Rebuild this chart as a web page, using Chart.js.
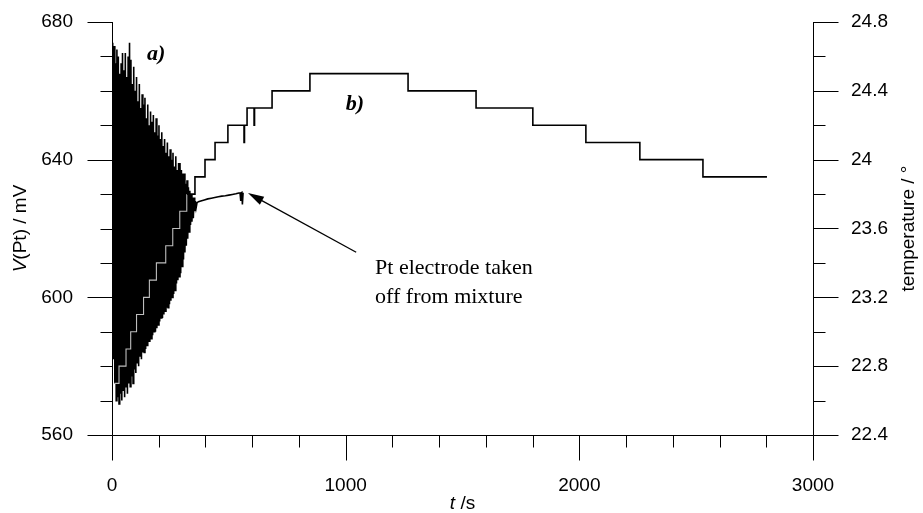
<!DOCTYPE html>
<html>
<head>
<meta charset="utf-8">
<script src="https://cdn.jsdelivr.net/npm/chart.js@4.4.0/dist/chart.umd.min.js"></script>
<style>
  html, body { margin: 0; padding: 0; background: #fff; }
  #wrap { width: 923px; height: 513px; }
</style>
</head>
<body>
<div id="wrap"><canvas id="trendChart" width="923" height="513"></canvas></div>
<script>
// a) potential of the Pt electrode (mV) vs time (s)
const voltTime = [
  3, 6, 9, 12, 15, 18, 21, 24, 27, 30, 33, 36, 39, 42, 45, 48, 51, 54, 57, 60,
  63, 66, 69, 72, 75, 78, 81, 84, 87, 90, 93, 96, 99, 102, 105, 108, 111, 114, 117, 120,
  123, 126, 129, 132, 135, 138, 141, 144, 147, 150, 153, 156, 159, 162, 165, 168, 171, 174, 177, 180,
  183, 186, 189, 192, 195, 198, 201, 204, 207, 210, 213, 216, 219, 222, 225, 228, 231, 234, 237, 240,
  243, 246, 249, 252, 255, 258, 261, 264, 267, 270, 273, 276, 279, 282, 285, 288, 291, 294, 297, 300,
  303, 306, 309, 312, 315, 318, 321, 324, 327, 330, 333, 336, 339, 342, 345, 348, 351, 354, 357, 360,
  364, 370, 380, 395, 410, 425, 440, 455, 470, 485, 500, 515, 530, 543, 548, 550, 552, 556, 558, 561
];
const voltValue = [
  674, 582, 673, 575, 668, 570, 672, 571, 670, 569, 665, 572, 668, 570, 671, 573, 666, 571, 671, 574,
  664, 572, 670, 575, 674, 574, 669, 577, 662, 575, 667, 579, 660, 578, 664, 581, 657, 580, 662, 583,
  655, 582, 659, 584, 656, 584, 658, 585, 652, 586, 656, 587, 650, 587, 654, 588, 651, 589, 653, 590,
  648, 590, 652, 591, 647, 592, 650, 593, 646, 594, 648, 594, 644, 595, 646, 596, 642, 597, 645, 597,
  641, 598, 643, 599, 640, 600, 642, 601, 638, 602, 641, 604, 637, 605, 639, 606, 639, 607, 637, 609,
  636, 611, 636, 613, 633, 615, 634, 617, 632, 619, 631, 621, 630, 622, 629, 623, 629, 625, 628, 626,
  627.5, 627.8, 628, 628.3, 628.6, 628.8, 629, 629.2, 629.4, 629.5, 629.7, 629.9, 630.1, 630.3, 630.3, 628, 630.3, 630.5, 627, 630.4
];

// b) temperature (deg) vs time (s), a new level starts at each time
const tempTime = [10, 30, 60, 80, 105, 135, 160, 190, 230, 260, 290, 320, 355, 398, 441, 496,
  565, 567, 578, 608, 610, 685, 847, 1267, 1558, 1801, 2028, 2259, 2529, 2803];
const tempValue = [22.7, 22.8, 22.9, 23.0, 23.1, 23.2, 23.3, 23.4, 23.5, 23.6, 23.7, 23.8, 23.9, 24.0, 24.1, 24.2,
  24.1, 24.2, 24.3, 24.2, 24.3, 24.4, 24.5, 24.4, 24.3, 24.2, 24.1, 24.0, 23.9, 23.9];

const xMajor = [0, 1000, 2000, 3000];
const vMajor = [560, 600, 640, 680];
const tMajor = [22.4, 22.8, 23.2, 23.6, 24, 24.4, 24.8];

const sans = '"Liberation Sans", Arial, sans-serif';
const serif = '"Liberation Serif", "Times New Roman", serif';

function pairs(xs, ys) {
  return xs.map((x, i) => ({ x: x, y: ys[i] }));
}

// draws axis lines, outward ticks, titles and the text notes
const decorations = {
  id: 'decorations',
  afterDraw(chart) {
    const ctx = chart.ctx;
    const a = chart.chartArea;
    const sx = chart.scales.x, sy = chart.scales.y, st = chart.scales.y2;
    const L = Math.round(a.left) + 0.5, R = Math.round(a.right) + 0.5, B = Math.round(a.bottom) + 0.5;
    ctx.save();
    ctx.strokeStyle = '#000';
    ctx.lineWidth = 1;
    ctx.beginPath();
    ctx.moveTo(L, a.top); ctx.lineTo(L, B);
    ctx.moveTo(R, a.top); ctx.lineTo(R, B);
    ctx.moveTo(L, B); ctx.lineTo(R, B);

    // x ticks (down)
    for (let v = 0; v <= 3000; v += 200) {
      const px = Math.round(sx.getPixelForValue(v)) + 0.5;
      const len = xMajor.includes(v) ? 25 : 12;
      ctx.moveTo(px, B); ctx.lineTo(px, B + len);
    }
    // left ticks
    for (let v = 560; v <= 680; v += 10) {
      const py = Math.round(sy.getPixelForValue(v)) + 0.5;
      const len = vMajor.includes(v) ? 25 : 12;
      ctx.moveTo(L, py); ctx.lineTo(L - len, py);
    }
    // right ticks
    for (let i = 0; i <= 12; i++) {
      const v = +(22.4 + i * 0.2).toFixed(1);
      const py = Math.round(st.getPixelForValue(v)) + 0.5;
      const len = tMajor.includes(v) ? 25 : 12;
      ctx.moveTo(R, py); ctx.lineTo(R + len, py);
    }
    ctx.stroke();

    ctx.fillStyle = '#000';
    ctx.textBaseline = 'middle';
    const midY = (a.top + a.bottom) / 2;

    // left title: V(Pt) / mV
    ctx.save();
    ctx.translate(21, midY);
    ctx.rotate(-Math.PI / 2);
    ctx.font = 'italic 19px ' + sans;
    const w1 = ctx.measureText('V').width;
    ctx.font = '19px ' + sans;
    const w2 = ctx.measureText('(Pt) / mV').width;
    let x0 = -(w1 + w2) / 2;
    ctx.textAlign = 'left';
    ctx.font = 'italic 19px ' + sans;
    ctx.fillText('V', x0, 0);
    ctx.font = '19px ' + sans;
    ctx.fillText('(Pt) / mV', x0 + w1, 0);
    ctx.restore();

    // right title
    ctx.save();
    ctx.translate(909, midY);
    ctx.rotate(-Math.PI / 2);
    ctx.font = '19px ' + sans;
    ctx.textAlign = 'center';
    ctx.fillText('temperature / \u00b0', 0, 0);
    ctx.restore();

    // bottom title: t /s
    ctx.font = 'italic 19px ' + sans;
    const tw = ctx.measureText('t').width;
    ctx.font = '19px ' + sans;
    const sw = ctx.measureText(' /s').width;
    const cx = (a.left + a.right) / 2;
    ctx.textAlign = 'left';
    ctx.font = 'italic 19px ' + sans;
    ctx.fillText('t', cx - (tw + sw) / 2, 504);
    ctx.font = '19px ' + sans;
    ctx.fillText(' /s', cx - (tw + sw) / 2 + tw, 504);

    // curve labels
    ctx.font = 'bold italic 22px ' + serif;
    ctx.fillText('a)', sx.getPixelForValue(150), sy.getPixelForValue(670.5));
    ctx.fillText('b)', sx.getPixelForValue(1000), sy.getPixelForValue(656));

    // note with arrow
    ctx.font = '22px ' + serif;
    ctx.fillText('Pt electrode taken', sx.getPixelForValue(1126), sy.getPixelForValue(608.5));
    ctx.fillText('off from mixture', sx.getPixelForValue(1126), sy.getPixelForValue(600));

    const hx = sx.getPixelForValue(582), hy = sy.getPixelForValue(630.3);
    const tx = sx.getPixelForValue(1045), ty = sy.getPixelForValue(613.1);
    const ang = Math.atan2(hy - ty, hx - tx);
    ctx.lineWidth = 1.3;
    ctx.beginPath();
    ctx.moveTo(tx, ty);
    ctx.lineTo(hx - 8 * Math.cos(ang), hy - 8 * Math.sin(ang));
    ctx.stroke();
    ctx.beginPath();
    ctx.moveTo(hx, hy);
    ctx.lineTo(hx - 16 * Math.cos(ang) + 4.5 * Math.sin(ang), hy - 16 * Math.sin(ang) - 4.5 * Math.cos(ang));
    ctx.lineTo(hx - 16 * Math.cos(ang) - 4.5 * Math.sin(ang), hy - 16 * Math.sin(ang) + 4.5 * Math.cos(ang));
    ctx.closePath();
    ctx.fill();
    ctx.restore();
  }
};

const tickFont = { family: sans, size: 19 };

new Chart(document.getElementById('trendChart'), {
  type: 'line',
  data: {
    datasets: [
      {
        label: 'temperature',
        data: pairs(tempTime, tempValue),
        yAxisID: 'y2',
        stepped: 'before',
        borderColor: '#000',
        borderWidth: 1.6,
        pointRadius: 0,
        fill: false,
        // inside the dense oscillation the trace shows as a pale line
        segment: {
          borderColor: c => c.p1.parsed.x <= 320 ? '#bdbdbd' : '#000',
          borderWidth: c => c.p1.parsed.x <= 320 ? 1.1 : 1.6
        }
      },
      {
        label: 'V(Pt)',
        data: pairs(voltTime, voltValue),
        yAxisID: 'y',
        borderColor: '#000',
        borderWidth: 1.6,
        pointRadius: 0,
        tension: 0,
        fill: false
      }
    ]
  },
  options: {
    responsive: false,
    animation: false,
    devicePixelRatio: 1,
    layout: { padding: { top: 22, left: 0, right: 0, bottom: 0 } },
    plugins: { legend: { display: false }, tooltip: { enabled: false } },
    scales: {
      x: {
        type: 'linear',
        min: 0, max: 3000,
        grid: { display: false },
        border: { display: false },
        ticks: {
          stepSize: 1000, color: '#000', font: tickFont, padding: 31, maxRotation: 0,
          callback: v => String(v)
        },
        afterFit: s => { s.height = 78; s.paddingLeft = 0; s.paddingRight = 0; }
      },
      y: {
        position: 'left',
        min: 560, max: 680,
        grid: { display: false },
        border: { display: false },
        ticks: { stepSize: 40, color: '#000', font: tickFont, padding: 31 },
        afterFit: s => { s.width = 112; s.paddingTop = 0; s.paddingBottom = 0; }
      },
      y2: {
        position: 'right',
        min: 22.4, max: 24.8,
        grid: { display: false },
        border: { display: false },
        ticks: {
          stepSize: 0.4, color: '#000', font: tickFont, padding: 30,
          callback: v => String(+v.toFixed(1))
        },
        afterFit: s => { s.width = 110; s.paddingTop = 0; s.paddingBottom = 0; }
      }
    }
  },
  plugins: [decorations]
});
</script>
</body>
</html>
